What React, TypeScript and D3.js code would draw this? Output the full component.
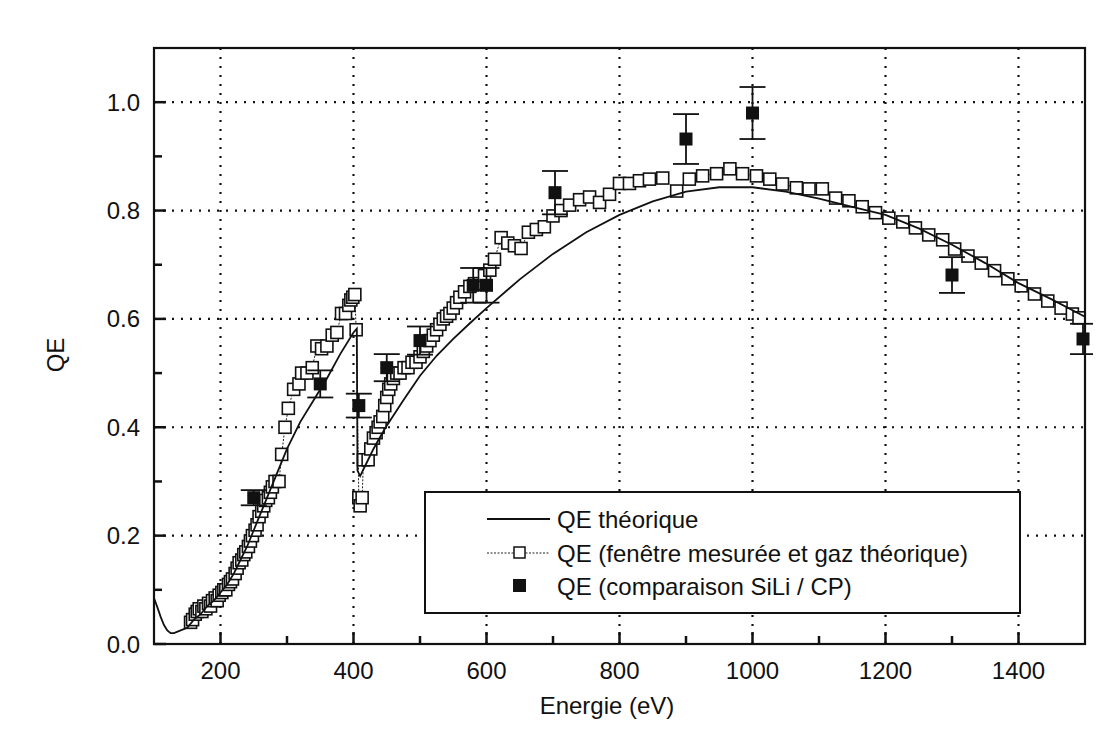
import React from "react";
import * as d3 from "d3";

// ---------- data ----------
const theoryE = [100,105,110,115,120,125,130,140,150,160,170,180,190,200,210,220,230,240,250,260,270,280,290,300,320,340,360,380,400,405,406,410,420,430,440,450,475,500,525,550,575,600,650,700,750,800,850,900,950,1000,1050,1100,1150,1200,1250,1300,1350,1400,1450,1500];
const theoryQE = [0.085,0.068,0.05,0.035,0.025,0.02,0.02,0.025,0.03,0.045,0.055,0.07,0.08,0.095,0.11,0.13,0.155,0.18,0.21,0.24,0.27,0.3,0.33,0.36,0.41,0.45,0.49,0.535,0.575,0.582,0.32,0.31,0.335,0.36,0.382,0.403,0.45,0.495,0.532,0.563,0.592,0.62,0.673,0.72,0.76,0.792,0.817,0.835,0.843,0.843,0.835,0.822,0.807,0.792,0.767,0.737,0.703,0.666,0.636,0.604];

const measE = [155,158,162,165,168,172,175,178,182,185,188,192,195,198,202,205,208,212,215,218,222,225,228,232,235,238,242,245,248,252,255,258,262,265,268,272,275,278,282,288,292,297,302,310,318,322,330,338,345,352,360,368,375,382,388,393,396,399,402,404,408,410,413,415,422,426,430,434,437,440,444,447,450,453,456,460,465,470,476,482,488,494,500,505,510,515,520,525,530,535,540,545,550,555,560,567,575,582,590,597,605,612,622,632,642,652,663,675,687,700,712,725,740,755,770,785,800,815,830,845,865,886,905,925,946,966,985,1006,1026,1045,1066,1085,1105,1125,1145,1165,1185,1205,1226,1245,1265,1286,1304,1324,1344,1364,1384,1404,1424,1444,1464,1481,1491];
const measQE = [0.04,0.045,0.055,0.06,0.065,0.06,0.07,0.065,0.075,0.07,0.08,0.085,0.08,0.09,0.095,0.1,0.1,0.11,0.115,0.12,0.13,0.14,0.15,0.155,0.165,0.17,0.18,0.19,0.2,0.21,0.22,0.235,0.245,0.255,0.265,0.27,0.28,0.29,0.3,0.3,0.35,0.4,0.435,0.47,0.48,0.5,0.5,0.51,0.55,0.545,0.55,0.57,0.575,0.61,0.61,0.625,0.635,0.64,0.645,0.58,0.27,0.255,0.27,0.34,0.34,0.36,0.38,0.39,0.4,0.41,0.42,0.44,0.455,0.47,0.48,0.49,0.5,0.5,0.51,0.51,0.52,0.52,0.53,0.54,0.55,0.56,0.57,0.58,0.59,0.6,0.605,0.61,0.62,0.63,0.64,0.65,0.66,0.665,0.665,0.68,0.69,0.71,0.75,0.74,0.735,0.73,0.76,0.765,0.77,0.79,0.8,0.81,0.82,0.825,0.815,0.83,0.85,0.85,0.855,0.858,0.86,0.836,0.858,0.864,0.868,0.877,0.868,0.864,0.858,0.849,0.842,0.84,0.84,0.823,0.818,0.807,0.796,0.786,0.779,0.768,0.755,0.746,0.729,0.716,0.703,0.689,0.674,0.661,0.646,0.633,0.62,0.609,0.602];

const siliE = [250,350,408,450,500,580,600,703,900,1000,1300,1497];
const siliQE = [0.27,0.48,0.44,0.51,0.56,0.662,0.662,0.833,0.932,0.98,0.681,0.563];
const siliErr = [0.014,0.025,0.022,0.025,0.026,0.032,0.032,0.04,0.046,0.048,0.033,0.028];

const xMajor = [200,400,600,800,1000,1200,1400];
const xMinor = [100,300,500,700,900,1100,1300,1500];
const yMajor = [0.0,0.2,0.4,0.6,0.8,1.0];
const yMinor = [0.1,0.3,0.5,0.7,0.9];

const legendLabels = [
  "QE théorique",
  "QE (fenêtre mesurée et gaz théorique)",
  "QE (comparaison SiLi / CP)",
];

const FONT = "'Liberation Sans', Arial, Helvetica, sans-serif";

export default function App() {
  const left = 154, right = 1085, top = 48, bottom = 644;
  const x = d3.scaleLinear().domain([100, 1500]).range([left, right]);
  const y = d3.scaleLinear().domain([0, 1.1]).range([bottom, top]);

  const theory = theoryE.map((e, i) => [e, theoryQE[i]] as [number, number]);
  const meas = measE.map((e, i) => [e, measQE[i]] as [number, number]);
  const line = d3.line<[number, number]>().x(d => x(d[0])).y(d => y(d[1]));

  const sq = 12;
  const fsq = 13;
  const cap = 13;
  const fs = 24;

  return (
    <div>
      <style>{`body{margin:0;background:#fff}`}</style>
      <svg width={1113} height={738} style={{ display: "block", background: "#fff" }} fontFamily={FONT}>
        <defs>
          <clipPath id="plot">
            <rect x={left} y={top} width={right - left + 8} height={bottom - top + 2} />
          </clipPath>
        </defs>
        {/* grid */}
        {xMajor.map(v => (
          <line key={"gx" + v} x1={x(v)} x2={x(v)} y1={bottom} y2={top} stroke="#111" strokeWidth={2.2} strokeDasharray="2,7" />
        ))}
        {yMajor.filter(v => v > 0).map(v => (
          <line key={"gy" + v} x1={left} x2={right} y1={y(v)} y2={y(v)} stroke="#111" strokeWidth={2.2} strokeDasharray="2,7" />
        ))}

        <g clipPath="url(#plot)">
          {/* measured series connecting dotted line */}
          <path d={line(meas) || ""} fill="none" stroke="#222" strokeWidth={1} strokeDasharray="2,1.5" />
          {meas.map((d, i) => (
            <rect key={"m" + i} x={x(d[0]) - sq / 2} y={y(d[1]) - sq / 2} width={sq} height={sq} fill="#fff" stroke="#111" strokeWidth={1.6} />
          ))}
          {/* theory */}
          <path d={line(theory) || ""} fill="none" stroke="#111" strokeWidth={1.8} />
          {/* SiLi comparison */}
          {siliE.map((e, i) => {
            const cx = x(e), cy = y(siliQE[i]);
            const yt = y(siliQE[i] + siliErr[i]), yb = y(siliQE[i] - siliErr[i]);
            return (
              <g key={"s" + i} stroke="#111" strokeWidth={1.8}>
                <line x1={cx} x2={cx} y1={yt} y2={yb} />
                <line x1={cx - cap} x2={cx + cap} y1={yt} y2={yt} />
                <line x1={cx - cap} x2={cx + cap} y1={yb} y2={yb} />
                <rect x={cx - fsq / 2} y={cy - fsq / 2} width={fsq} height={fsq} fill="#111" stroke="none" />
              </g>
            );
          })}
        </g>

        {/* frame */}
        <rect x={left} y={top} width={right - left} height={bottom - top} fill="none" stroke="#111" strokeWidth={2.2} />

        {/* ticks */}
        {xMajor.map(v => (
          <line key={"tx" + v} x1={x(v)} x2={x(v)} y1={bottom} y2={bottom - 12} stroke="#111" strokeWidth={2.5} />
        ))}
        {xMinor.filter(v => v > 100 && v < 1500).map(v => (
          <line key={"tmx" + v} x1={x(v)} x2={x(v)} y1={bottom} y2={bottom - 8} stroke="#111" strokeWidth={2.5} />
        ))}
        {yMajor.map(v => (
          <line key={"ty" + v} x1={left} x2={left + 12} y1={y(v)} y2={y(v)} stroke="#111" strokeWidth={2.5} />
        ))}
        {yMinor.map(v => (
          <line key={"tmy" + v} x1={left} x2={left + 8} y1={y(v)} y2={y(v)} stroke="#111" strokeWidth={2.5} />
        ))}

        {/* tick labels */}
        {xMajor.map(v => (
          <text key={"lx" + v} x={x(v)} y={679} textAnchor="middle" fontSize={fs} fill="#111">{v}</text>
        ))}
        {yMajor.map(v => (
          <text key={"ly" + v} x={140} y={y(v) + 8.5} textAnchor="end" fontSize={fs} fill="#111">{v.toFixed(1)}</text>
        ))}

        {/* axis titles */}
        <text x={607} y={714} textAnchor="middle" fontSize={fs} fill="#111">Energie (eV)</text>
        <text transform="translate(64,355) rotate(-90)" textAnchor="middle" fontSize={fs} fill="#111">QE</text>

        {/* legend */}
        <g>
          <rect x={425} y={492} width={595} height={121} fill="#fff" stroke="#111" strokeWidth={2} />
          <line x1={487} x2={550} y1={519} y2={519} stroke="#111" strokeWidth={1.8} />
          <line x1={487} x2={550} y1={553} y2={553} stroke="#222" strokeWidth={1} strokeDasharray="2,1.5" />
          <rect x={514} y={547} width={11} height={11} fill="#fff" stroke="#111" strokeWidth={1.5} />
          <rect x={513} y={579} width={13} height={13} fill="#111" />
          {legendLabels.map((t, i) => (
            <text key={t} x={557} y={[519, 553, 586][i] + 8.5} fontSize={fs} fill="#111">{t}</text>
          ))}
        </g>
      </svg>
    </div>
  );
}
